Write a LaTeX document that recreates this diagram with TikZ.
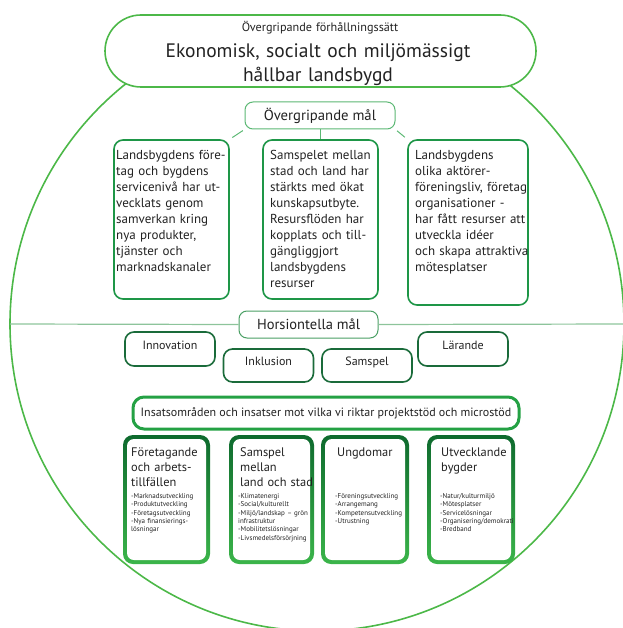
\documentclass[tikz,border=0pt]{standalone}
\usepackage{fontspec}
\setmainfont{PT Sans}
\usetikzlibrary{positioning}
\definecolor{ringgreen}{HTML}{4CB848}
\definecolor{hlinegreen}{HTML}{8DC49B}
\definecolor{omgreen}{HTML}{5CB874}
\definecolor{goalgreen}{HTML}{1E9647}
\definecolor{horgreen}{HTML}{1A6B3A}
\definecolor{hmgreen}{HTML}{4A9F64}
\definecolor{insgreen}{HTML}{24A144}
\definecolor{areatop}{HTML}{0E6A2E}
\definecolor{areabot}{HTML}{3BB54A}
\definecolor{ink}{HTML}{222222}
\newcommand\fsz[2]{\fontsize{#1}{#2}\selectfont}

\tikzset{maal/.style = {draw=goalgreen, line width=1.6pt, fill=white, rounded corners=9pt,
                        minimum width=#1, minimum height=159pt},
         maal/.default=115pt,
         horis/.style = {draw=horgreen, line width=1.6pt, fill=white, rounded corners=9pt,
                         minimum width=90pt, minimum height=34pt},
         omraade/.style = {rounded corners=10pt, minimum width=#1, minimum height=129pt,
                           top color=areatop, bottom color=areabot,
                           path picture={\fill[white, rounded corners=7pt]
                             ([shift={(4pt,-4pt)}]path picture bounding box.north west) rectangle
                             ([shift={(-4pt,4pt)}]path picture bounding box.south east);}},
         omraade/.default=87pt,
         txt/.style = {inner sep=0pt, text=ink, align=left, text width=#1},
         txt/.default=130pt
        }

\begin{document}
\begin{tikzpicture}[x=1pt, y=-1pt]
  \tikzstyle{link}=[omgreen, line width=1pt, shorten <=2pt, shorten >=3pt]
  \useasboundingbox (0,0) rectangle (622,628);
  \draw[ringgreen, line width=1.6pt] (317,324) circle[radius=307pt];
  \coordinate (rimL) at (10,324);
  \coordinate (rimR) at (624,324);

  \node[draw=ringgreen, line width=1.6pt, fill=white, rounded corners=36pt,
        minimum width=431pt, minimum height=72pt] (hode) at (320.5,51) {};
  \node[txt=250pt, align=center, anchor=base, font=\fsz{12.2}{14}] (hodesub) at (320,31.5) {Övergripande förhållningssätt};
  \node[txt=340pt, align=center, anchor=base, font=\fsz{19.5}{24}] (hodetxt) at (318,58)
       {Ekonomisk, socialt och miljömässigt\\hållbar landsbygd};

  \node[maal] (g1) at (171.5,219.5) {};
  \node[maal] (g2) at (320.5,219.5) {};
  \node[maal=120pt, minimum height=165pt] (g3) at (468,222.5) {};
  \node[draw=omgreen, line width=1pt, fill=white, rounded corners=8pt, text=ink,
        minimum width=150pt, minimum height=27pt, font=\fsz{14.7}{18}] (om) at (320,115.5) {Övergripande mål};
  \draw[link] (om.south west) -- (g1.north east);
  \draw[link, shorten <=0pt, shorten >=0pt] (om.south) -- (om.south |- g2.north);
  \draw[link] (om.south east) -- (g3.north west);

  \node[txt, anchor=base west, font=\fsz{13}{16}] (g1t) at (116,160)
       {Landsbygdens före-\\tag och bygdens\\servicenivå har ut-\\vecklats genom\\samverkan kring\\nya produkter,\\tjänster och\\marknadskanaler};
  \node[txt, anchor=base west, font=\fsz{13}{16}] (g2t) at (270,160)
       {Samspelet mellan\\stad och land har\\stärkts med ökat\\kunskapsutbyte.\\Resursflöden har\\kopplats och till-\\gängliggjort\\landsbygdens\\resurser};
  \node[txt, anchor=base west, font=\fsz{13}{16}] (g3t) at (415,160)
       {Landsbygdens\\olika aktörer-\\föreningsliv, företag\\organisationer -\\har fått resurser att\\utveckla idéer\\och skapa attraktiva\\mötesplatser};

  \node[draw=hmgreen, line width=1pt, fill=white, rounded corners=8pt, text=ink,
        minimum width=139pt, minimum height=27pt, font=\fsz{14.5}{17}] (hm) at (308.5,324.5) {Horsiontella mål};
  \draw[hlinegreen, line width=1.2pt] (rimL) -- (hm.west);
  \draw[hlinegreen, line width=1.2pt] (hm.east) -- (rimR);

  \node[horis] (inno) at (170,349) {};
  \node[horis, minimum height=33pt] (inkl) at (268.5,365.5) {};
  \node[horis, minimum height=33pt] (samsp) at (367,365.5) {};
  \node[horis] (laer) at (463,349) {};
  \node[txt=80pt, align=center, anchor=base, font=\fsz{12}{14}] (innot) at (inno.center) {Innovation};
  \node[txt=80pt, align=center, anchor=base, font=\fsz{12}{14}] (inklt) at (inkl.center) {Inklusion};
  \node[txt=80pt, align=center, anchor=base, font=\fsz{12}{14}] (samspt) at (samsp.center) {Samspel};
  \node[txt=80pt, align=center, anchor=base, font=\fsz{12}{14}] (laert) at (laer.center) {Lärande};

  \node[draw=insgreen, line width=3pt, fill=white, rounded corners=11pt, text=ink,
        minimum width=386pt, minimum height=32pt, font=\fsz{12}{14}] (insats) at (326,413)
       {Insatsområden och insatser mot vilka vi riktar projektstöd och microstöd};

  \node[omraade] (foer) at (166.5,499.5) {};
  \node[omraade=85pt] (land) at (271.5,499.5) {};
  \node[omraade=88pt] (ungd) at (365,499.5) {};
  \node[omraade=88pt] (bygd) at (471,499.5) {};

  \node[txt=80pt, anchor=base west, font=\fsz{12.4}{15}] (foert) at (131,456)
       {Företagande\\och arbets-\\tillfällen};
  \node[txt=80pt, anchor=base west, font=\fsz{12.4}{15}] (landt) at (240,456)
       {Samspel\\mellan\\land och stad};
  \node[txt=80pt, anchor=base west, font=\fsz{12.4}{15}] (ungdt) at (337,456) {Ungdomar};
  \node[txt=80pt, anchor=base west, font=\fsz{12.4}{15}] (bygdt) at (441,456)
       {Utvecklande\\bygder};

  \node[txt=80pt, anchor=base west, font=\fsz{7}{8.3}] (foerl) at (131,498.5)
       {-Marknadsutveckling\\-Produktutveckling\\-Företagsutveckling\\-Nya finansierings-\\lösningar};
  \node[txt=80pt, anchor=base west, font=\fsz{7}{8.3}] (landl) at (238,498.5)
       {-Klimatenergi\\-Social/kulturellt\\-Miljö/landskap -- grön\\infrastruktur\\-Mobilitetslösningar\\-Livsmedelsförsörjning};
  \node[txt=80pt, anchor=base west, font=\fsz{7}{8.3}] (ungdl) at (335,498.5)
       {-Föreningsutveckling\\-Arrangemang\\-Kompetensutveckling\\-Utrustning};
  \node[txt=80pt, anchor=base west, font=\fsz{7}{8.3}] (bygdl) at (440,498.5)
       {-Natur/kulturmiljö\\-Mötesplatser\\-Servicelösningar\\-Organisering/demokrati\\-Bredband};
\end{tikzpicture}
\end{document}
